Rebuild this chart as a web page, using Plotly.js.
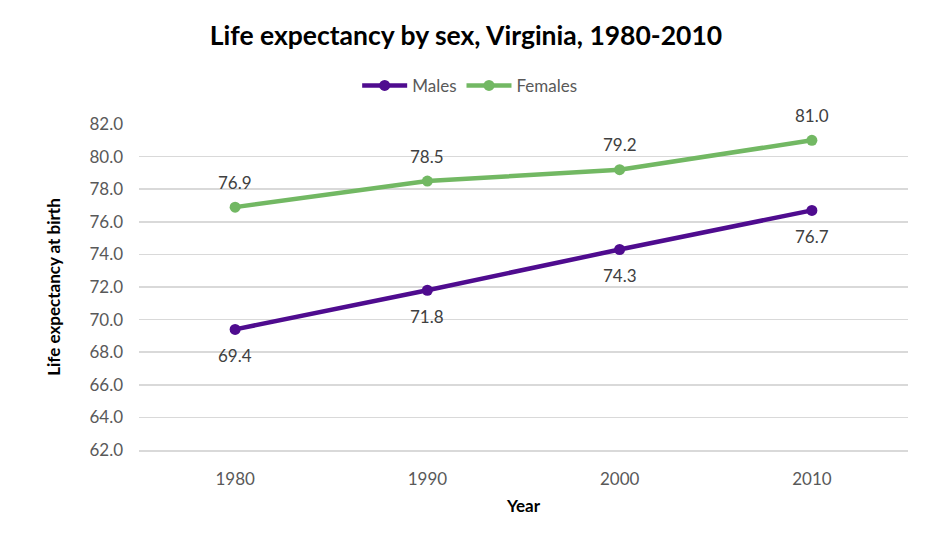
<!DOCTYPE html>
<html>
<head>
<meta charset="utf-8">
<script src="https://cdn.plot.ly/plotly-3.0.1.min.js"></script>
<style>html,body{margin:0;padding:0;background:#fff;}#chart{width:932px;height:543px;}</style>
</head>
<body>
<div id="chart"></div>
<script>
const years = ['1980', '1990', '2000', '2010'];
const males = [69.4, 71.8, 74.3, 76.7];
const females = [76.9, 78.5, 79.2, 81.0];
const yTicks = [62, 64, 66, 68, 70, 72, 74, 76, 78, 80, 82];

const FONT = 'Lato, "Open Sans", sans-serif';
const labelFont = {family: FONT, size: 17, color: '#404040'};
const MALE_C = '#4f0c8f', FEMALE_C = '#72b863';

const traces = [
  {
    x: years, y: males, name: 'Males', type: 'scatter', mode: 'lines+markers',
    line: {color: MALE_C, width: 4.5}, marker: {color: MALE_C, size: 11}, cliponaxis: false
  },
  {
    x: years, y: females, name: 'Females', type: 'scatter', mode: 'lines+markers',
    line: {color: FEMALE_C, width: 4.5}, marker: {color: FEMALE_C, size: 11}, cliponaxis: false
  }
];

// category axis: annotations are placed by category index
const annotations = [];
years.forEach((yr, i) => {
  annotations.push({xref: 'x', yref: 'y', x: i, y: males[i], text: males[i].toFixed(1), showarrow: false,
    yshift: -26, font: labelFont, xanchor: 'center', yanchor: 'middle'});
  annotations.push({xref: 'x', yref: 'y', x: i, y: females[i], text: females[i].toFixed(1), showarrow: false,
    yshift: 25, font: labelFont, xanchor: 'center', yanchor: 'middle'});
});

const layout = {
  width: 932, height: 543,
  margin: {l: 139, r: 24, t: 124, b: 93},
  paper_bgcolor: '#ffffff', plot_bgcolor: '#ffffff',
  font: {family: FONT, color: '#595959', size: 17},
  title: {text: '<b>Life expectancy by sex, Virginia, 1980-2010</b>', x: 0.5, xanchor: 'center', y: 0.935, yanchor: 'middle',
          font: {family: FONT, size: 26.5, color: '#000000'}},
  showlegend: true,
  legend: {orientation: 'h', x: 0.43, xanchor: 'center', y: 1.117, yanchor: 'middle',
           font: {family: FONT, size: 17, color: '#595959'}, itemwidth: 45, traceorder: 'normal'},
  annotations: annotations,
  xaxis: {
    type: 'category', range: [-0.5, 3.5], showgrid: false, zeroline: false,
    showline: true, linecolor: '#d9d9d9', linewidth: 1.5,
    ticks: '', tickfont: {family: FONT, size: 17, color: '#595959'}, ticklabelstandoff: 13,
    title: {text: '<b>Year</b>', font: {family: FONT, size: 17, color: '#000000'}, standoff: 12}
  },
  yaxis: {
    range: [62, 82], tickvals: yTicks, ticktext: yTicks.map(v => v.toFixed(1)),
    showgrid: true, gridcolor: '#d9d9d9', gridwidth: 1.5, zeroline: false, showline: false, ticks: '',
    tickfont: {family: FONT, size: 17, color: '#595959'}, ticklabelstandoff: 15,
    title: {text: '<b>Life expectancy at birth</b>', font: {family: FONT, size: 17, color: '#000000'}, standoff: 24}
  }
};

Plotly.newPlot('chart', traces, layout, {displayModeBar: false, staticPlot: true});
</script>
</body>
</html>
